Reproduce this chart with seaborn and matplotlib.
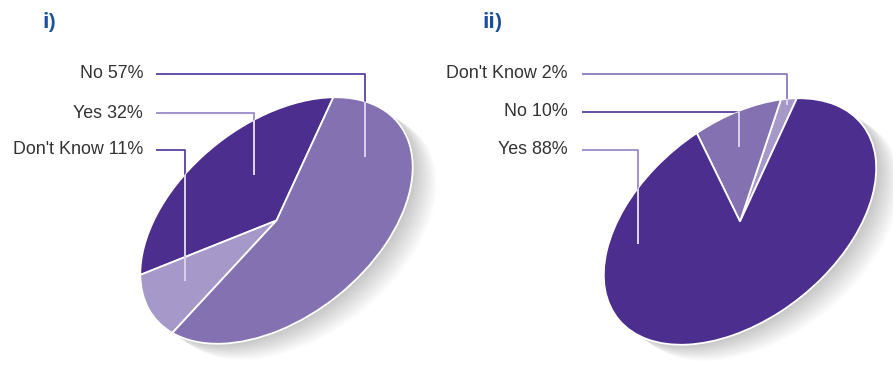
import numpy as np
import matplotlib
matplotlib.use("Agg")
import matplotlib.pyplot as plt
from matplotlib.patches import Ellipse
from matplotlib.transforms import Affine2D
import seaborn as sns

sns.set_theme(style="white")
plt.rcParams["font.family"] = ["Liberation Sans", "DejaVu Sans"]

# Survey answers, two questions
titles = ["i)", "ii)"]
q1_labels = ["Yes", "Don't Know", "No"]
q1_values = [32, 11, 57]
q2_labels = ["Don't Know", "No", "Yes"]
q2_values = [2, 10, 88]

# Label order in the callout column (top to bottom)
q1_callout_order = ["No", "Yes", "Don't Know"]
q2_callout_order = ["Don't Know", "No", "Yes"]

DARK = "#4b2e8d"
MID = "#8471b1"
LIGHT = "#a699ca"
q1_colors = {"Yes": DARK, "Don't Know": LIGHT, "No": MID}
q2_colors = {"Don't Know": LIGHT, "No": MID, "Yes": DARK}

W, H = 893, 369
fig = plt.figure(figsize=(W / 100, H / 100), dpi=100)
ax = fig.add_axes([0, 0, 1, 1])

# Ellipse geometry of the tilted pies (pixels, y up)
A, B, PHI = 156, 97, 38.5
START = 39

panels = [
    dict(title=titles[0], title_xy=(42, H - 22), center=(276.5, H - 220.5),
         labels=q1_labels, values=q1_values, colors=q1_colors, order=q1_callout_order,
         text_x=143, line_x0=156,
         rows=[(74, 365, 157), (113, 254, 175), (150, 185, 281)],
         line_cols=["#5a3fa0", "#9a8bc9", "#5a3fa0"]),
    dict(title=titles[1], title_xy=(483, H - 22), center=(740, H - 221.5),
         labels=q2_labels, values=q2_values, colors=q2_colors, order=q2_callout_order,
         text_x=568, line_x0=582,
         rows=[(74, 787, 105), (112, 739, 147), (150, 638, 244)],
         line_cols=["#8a7bc0", "#5a3fa0", "#9a8bc9"]),
]

for p in panels:
    cx, cy = p["center"]
    # soft drop shadow
    for t in np.linspace(0.08, 1.0, 14):
        sh = Ellipse((cx + 24 * t, cy - 16 * t), 2 * A, 2 * B, angle=PHI,
                     facecolor="black", edgecolor="none", alpha=0.016, zorder=1)
        ax.add_patch(sh)

    wedges, _ = ax.pie(p["values"], colors=[p["colors"][l] for l in p["labels"]],
                       startangle=START, counterclock=True, radius=1, center=(0, 0),
                       wedgeprops=dict(edgecolor="white", linewidth=1.3))
    tr = Affine2D().scale(A, B).rotate_deg(PHI).translate(cx, cy) + ax.transData
    for w in wedges:
        w.set_transform(tr)
        w.set_zorder(2)

    clip = Ellipse((cx, cy), 2 * A, 2 * B, angle=PHI, transform=ax.transData,
                   facecolor="none", edgecolor="none")
    ax.add_patch(clip)

    ax.text(*p["title_xy"], p["title"], color="#1a4f9c", fontsize=15,
            fontweight="bold", va="center", ha="left", family="Open Sans")

    for name, (ty, lx, ly), lc in zip(p["order"], p["rows"], p["line_cols"]):
        val = p["values"][p["labels"].index(name)]
        ax.text(p["text_x"], H - ty, f"{name} {val}%", ha="right", va="center",
                fontsize=12.9, color="#333333")
        xs = [p["line_x0"], lx, lx]
        ys = [H - ty, H - ty, H - ly]
        ax.plot(xs, ys, color=lc, lw=1.3, zorder=3, solid_capstyle="butt")
        inner, = ax.plot(xs, ys, color="#e4def2", lw=1.3, zorder=4,
                         solid_capstyle="butt")
        inner.set_clip_path(clip)

ax.set_xlim(0, W)
ax.set_ylim(0, H)
ax.set_aspect("auto")
ax.axis("off")
fig.savefig("out.png", dpi=100, facecolor="white")
